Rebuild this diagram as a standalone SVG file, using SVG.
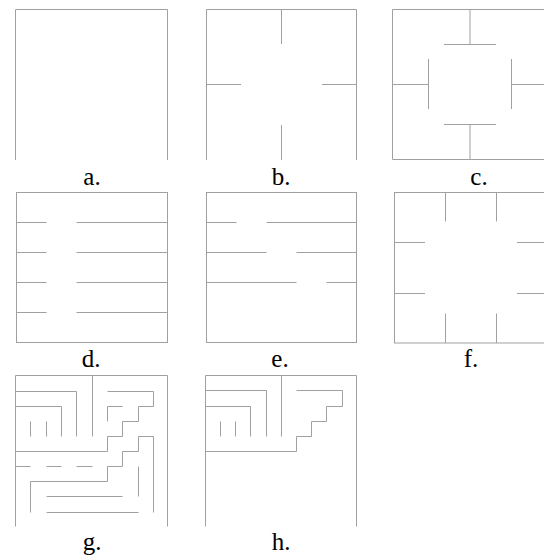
<svg xmlns="http://www.w3.org/2000/svg" width="544" height="556" viewBox="0 0 544 556">
<style>
.w{fill:none;stroke:#a0a0a0;stroke-width:1}
.lbl{font-size:25px;fill:#000;text-anchor:middle}
</style>
<rect width="544" height="556" fill="#fff"/>
<g id="panel-a">
<path class="w" d="M15.5 160 V9.5 H167.5 V160"/>
<text class="lbl" font-family="'Liberation Serif', 'Times New Roman', serif" x="92" y="185">a.</text>
</g>
<g id="panel-b">
<path class="w" d="M206.5 160 V9.5 H356.5 V160"/>
<path class="w" d="M281.5 9.5 V44 M281.5 125 V160 M206.5 84.5 H241 M322 84.5 H356.5"/>
<text class="lbl" font-family="'Liberation Serif', 'Times New Roman', serif" x="281" y="185">b.</text>
</g>
<g id="panel-c">
<path class="w" d="M392.5 9.5 H547.5 V159.5 H392.5 Z"/>
<path class="w" d="M470 9.5 V44.5 M444 44.5 H496 M444 124.5 H496 M470 124.5 V159.5 M392.5 84.5 H428.5 M428.5 59 V109 M511.5 59 V109 M511.5 84.5 H547.5"/>
<text class="lbl" font-family="'Liberation Serif', 'Times New Roman', serif" x="479" y="185">c.</text>
</g>
<g id="panel-d">
<rect class="w" x="16.5" y="192.5" width="151" height="150"/>
<path class="w" d="M16.5 222.5 H46.5 M76.5 222.5 H167.5 M16.5 252.5 H46.5 M76.5 252.5 H167.5 M16.5 282.5 H46.5 M76.5 282.5 H167.5 M16.5 312.5 H46.5 M76.5 312.5 H167.5"/>
<text class="lbl" font-family="'Liberation Serif', 'Times New Roman', serif" x="91" y="367">d.</text>
</g>
<g id="panel-e">
<rect class="w" x="206.5" y="192.5" width="150" height="150"/>
<path class="w" d="M206.5 222.5 H236.5 M266.5 222.5 H356.5 M206.5 252.5 H266.5 M296.5 252.5 H356.5 M206.5 282.5 H296.5 M326.5 282.5 H356.5"/>
<text class="lbl" font-family="'Liberation Serif', 'Times New Roman', serif" x="280" y="367">e.</text>
</g>
<g id="panel-f">
<rect class="w" x="394.5" y="192.5" width="153" height="150.5"/>
<path class="w" d="M445.5 192.5 V221.5 M496.5 192.5 V221.5 M445.5 313.5 V343 M496.5 313.5 V343 M394.5 242.5 H425 M394.5 293.5 H425 M517 242.5 H547.5 M517 293.5 H547.5"/>
<text class="lbl" font-family="'Liberation Serif', 'Times New Roman', serif" x="471" y="367">f.</text>
</g>
<g id="panel-g">
<path class="w" d="M15.5 526.5 V375.5 H167.5 V526.5"/>
<path class="w" d="M92.5 375.5 V436.5 M15.5 391.5 H76.5 V436.5 M15.5 406.5 H61.5 V436.5 M30.5 421.5 V436.5 M46.5 421.5 V436.5 M107.5 391.5 H153.5 V406.5 H138.5 V421.5 H122.5 V436.5 H107.5 V451.5 H15.5 M122.5 406.5 H107.5 V421.5 M138.5 436.5 H153.5 V512.5 M138.5 436.5 V451.5 H122.5 V466.5 H107.5 V481.5 H30.5 V512.5 M15.5 466.5 H30.5 M46.5 466.5 H61.5 M76.5 466.5 H92.5 M138.5 466.5 V496.5 M46.5 496.5 H122.5 M46.5 512.5 H138.5"/>
<text class="lbl" font-family="'Liberation Serif', 'Times New Roman', serif" x="92" y="550">g.</text>
</g>
<g id="panel-h">
<path class="w" d="M205.5 526.5 V375.5 H356.5 V526.5"/>
<path class="w" d="M281.5 375.5 V436.5 M205.5 390.5 H266.5 V436.5 M205.5 406.5 H250.5 V436.5 M220.5 421.5 V436.5 M235.5 421.5 V436.5 M296.5 390.5 H342.5 V406.5 H326.5 V421.5 H311.5 V436.5 H296.5 V451.5 H205.5"/>
<text class="lbl" font-family="'Liberation Serif', 'Times New Roman', serif" x="281" y="550">h.</text>
</g>
<g id="connectors"></g>
</svg>
